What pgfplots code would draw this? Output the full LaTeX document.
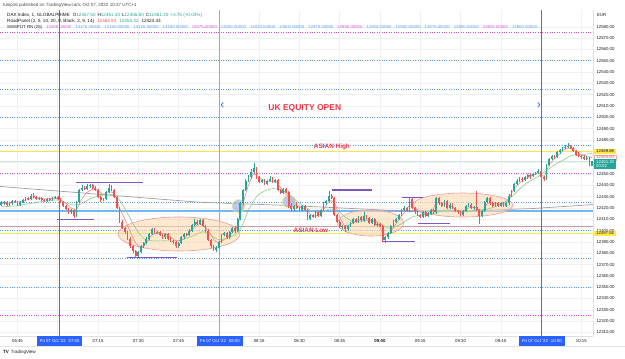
\documentclass[border=0pt]{standalone}
\usepackage{pgfplots}
\pgfplotsset{compat=1.18}
\usepackage{pgfplotstable}
\usepackage{fontspec}
\setmainfont{Liberation Sans}
\definecolor{up}{HTML}{26A69A}
\definecolor{dn}{HTML}{EF5350}
\definecolor{txt}{HTML}{131722}
\definecolor{tvblue}{HTML}{2962FF}
\definecolor{vline}{HTML}{4A6CF0}
\definecolor{vlight}{HTML}{8EA6F6}
\definecolor{dotblue}{HTML}{5B9CF0}
\definecolor{dotmag}{HTML}{D452DE}
\definecolor{yel}{HTML}{FDE74C}
\definecolor{gridc}{HTML}{EEF1F6}
\definecolor{purp}{HTML}{7E57C2}
\definecolor{mared}{HTML}{F28B8B}
\definecolor{magreen}{HTML}{8CCB8A}
\definecolor{mauve}{HTML}{C49AAE}
\definecolor{lblue}{HTML}{74B6F4}
\definecolor{graym}{HTML}{A0A0A0}
\definecolor{ellfill}{HTML}{FBD9B0}
\definecolor{elldraw}{HTML}{F49A9A}
\definecolor{circfill}{HTML}{A9BDEB}
\definecolor{ukred}{HTML}{F23645}
\definecolor{lteal}{HTML}{CFE9E4}
\newcommand{\fs}[1]{\fontsize{#1}{#1}\selectfont}
\pgfplotstableread{
m o h l c
399 12423 12426 12422 12424
400 12424 12426 12423 12425
401 12425 12426 12422 12423
402 12423 12425 12422 12424
403 12424 12427 12423 12426
404 12426 12427 12424 12425
405 12425 12426 12422 12423
406 12423 12426 12422 12425
407 12425 12428 12424 12427
408 12427 12430 12426 12429
409 12429 12430 12427 12428
410 12428 12432 12427 12431
411 12431 12433 12429 12430
412 12430 12431 12427 12428
413 12428 12430 12427 12429
414 12429 12430 12426 12427
415 12427 12428 12425 12426
416 12426 12429 12425 12428
417 12428 12429 12426 12427
418 12427 12430 12426 12429
419 12429 12431 12428 12430
420 12430 12431 12427 12428
421 12428 12429 12424 12425
422 12425 12426 12421 12422
423 12422 12423 12418 12419
424 12419 12420 12415 12416
425 12416 12419 12415 12418
426 12418 12419 12411 12413
427 12413 12426 12412 12425
428 12425 12437 12424 12436
429 12436 12440 12435 12438
430 12438 12439 12436 12437
431 12437 12441 12436 12439
432 12439 12441 12438 12440
433 12440 12441 12437 12438
434 12438 12439 12435 12436
435 12436 12437 12429 12430
436 12430 12431 12425 12427
437 12427 12429 12426 12428
438 12428 12435 12427 12434
439 12434 12441 12433 12438
440 12438 12440 12435 12436
441 12436 12437 12429 12430
442 12430 12431 12419 12420
443 12420 12421 12407 12408
444 12408 12409 12401 12402
445 12402 12403 12397 12399
446 12399 12400 12392 12393
447 12393 12394 12385 12386
448 12386 12387 12380 12382
449 12382 12383 12376 12378
450 12378 12382 12377 12381
451 12381 12387 12380 12386
452 12386 12390 12385 12389
453 12389 12394 12388 12393
454 12393 12398 12392 12397
455 12397 12402 12396 12401
456 12401 12402 12397 12398
457 12398 12400 12397 12399
458 12399 12400 12395 12396
459 12396 12397 12393 12394
460 12394 12398 12393 12397
461 12397 12398 12392 12393
462 12393 12394 12390 12391
463 12391 12392 12388 12390
464 12390 12391 12385 12386
465 12386 12390 12385 12389
466 12389 12395 12388 12394
467 12394 12398 12393 12397
468 12397 12398 12395 12396
469 12396 12401 12395 12400
470 12400 12406 12399 12405
471 12405 12410 12404 12408
472 12408 12409 12405 12406
473 12406 12410 12405 12409
474 12409 12410 12403 12404
475 12404 12405 12399 12400
476 12400 12401 12391 12392
477 12392 12393 12385 12386
478 12386 12387 12382 12383
479 12383 12386 12381 12385
480 12385 12391 12384 12390
481 12390 12397 12389 12396
482 12396 12399 12395 12398
483 12398 12399 12393 12394
484 12394 12400 12393 12399
485 12399 12403 12398 12402
486 12402 12404 12398 12400
487 12400 12411 12399 12410
488 12410 12425 12409 12424
489 12424 12437 12423 12436
490 12436 12446 12435 12444
491 12444 12449 12443 12447
492 12447 12454 12446 12452
493 12452 12460 12451 12455
494 12455 12456 12446 12447
495 12447 12448 12442 12443
496 12443 12446 12442 12445
497 12445 12446 12440 12441
498 12441 12445 12440 12444
499 12444 12448 12443 12446
500 12446 12447 12442 12443
501 12443 12446 12442 12445
502 12445 12446 12435 12436
503 12436 12437 12432 12433
504 12433 12438 12432 12437
505 12437 12438 12433 12434
506 12434 12435 12420 12422
507 12422 12424 12417 12419
508 12419 12423 12417 12422
509 12422 12425 12419 12420
510 12420 12421 12417 12418
511 12418 12423 12417 12422
512 12422 12423 12417 12418
513 12418 12419 12409 12410
514 12410 12415 12409 12414
515 12414 12415 12411 12412
516 12412 12417 12411 12416
517 12416 12417 12412 12413
518 12413 12419 12412 12418
519 12418 12425 12417 12424
520 12424 12427 12423 12426
521 12426 12435 12425 12431
522 12431 12432 12428 12429
523 12429 12430 12413 12414
524 12414 12415 12407 12408
525 12408 12409 12402 12403
526 12403 12405 12401 12404
527 12404 12405 12399 12401
528 12401 12405 12400 12404
529 12404 12408 12403 12407
530 12407 12411 12406 12410
531 12410 12411 12407 12408
532 12408 12413 12407 12412
533 12412 12413 12408 12409
534 12409 12416 12408 12413
535 12413 12414 12410 12411
536 12411 12412 12406 12407
537 12407 12411 12406 12410
538 12410 12411 12404 12405
539 12405 12407 12403 12406
540 12406 12407 12403 12404
541 12404 12405 12390 12392
542 12392 12395 12389 12394
543 12394 12399 12393 12398
544 12398 12405 12397 12404
545 12404 12409 12403 12408
546 12408 12411 12407 12410
547 12410 12415 12409 12414
548 12414 12419 12413 12418
549 12418 12422 12417 12420
550 12420 12421 12416 12417
551 12417 12429 12416 12428
552 12428 12429 12419 12420
553 12420 12421 12415 12416
554 12416 12417 12413 12414
555 12414 12415 12411 12412
556 12412 12417 12411 12416
557 12416 12417 12412 12413
558 12413 12416 12412 12415
559 12415 12419 12414 12418
560 12418 12419 12415 12416
561 12416 12430 12415 12429
562 12429 12430 12423 12424
563 12424 12425 12421 12422
564 12422 12427 12421 12426
565 12426 12427 12419 12420
566 12420 12424 12419 12423
567 12423 12424 12419 12420
568 12420 12421 12416 12417
569 12417 12418 12415 12416
570 12416 12417 12413 12414
571 12414 12418 12413 12417
572 12417 12423 12416 12422
573 12422 12424 12421 12423
574 12423 12424 12419 12420
575 12420 12422 12418 12421
576 12421 12435 12417 12418
577 12418 12419 12406 12413
578 12413 12418 12412 12417
579 12417 12426 12416 12425
580 12425 12430 12424 12429
581 12429 12430 12423 12424
582 12424 12425 12421 12422
583 12422 12425 12421 12424
584 12424 12425 12421 12422
585 12422 12425 12421 12424
586 12424 12425 12421 12422
587 12422 12425 12421 12424
588 12424 12432 12423 12431
589 12431 12436 12430 12435
590 12435 12442 12434 12441
591 12441 12446 12440 12444
592 12444 12447 12443 12446
593 12446 12447 12443 12445
594 12445 12448 12444 12447
595 12447 12450 12446 12449
596 12449 12450 12446 12448
597 12448 12451 12447 12450
598 12450 12452 12449 12451
599 12451 12454 12450 12453
600 12453 12454 12446 12447
601 12447 12448 12444 12446
602 12446 12459 12445 12458
603 12458 12464 12457 12463
604 12463 12467 12462 12466
605 12466 12467 12463 12465
606 12465 12470 12464 12469
607 12469 12472 12468 12471
608 12471 12474 12470 12473
609 12473 12476 12472 12474
610 12474 12477 12473 12475
611 12475 12476 12472 12473
612 12473 12474 12469 12470
613 12470 12471 12466 12467
614 12467 12469 12465 12466
615 12466 12467 12463 12465
616 12465 12467 12462 12463
617 12463 12466 12462 12464
618 12464 12465 12457 12457.5
619 12457.5 12461.3 12456.8 12461.3
}\candles
\begin{document}
\begin{tikzpicture}
\path[use as bounding box] (0pt,0pt) rectangle (625pt,359pt);
\begin{axis}[
  at={(0pt,23pt)}, anchor=south west, scale only axis,
  width=593pt, height=326pt,
  xmin=398.48, xmax=619.34, ymin=12306.89, ymax=12594.88,
  axis x line*=bottom, axis y line*=right,
  axis line style={draw=black!12, -},
  major tick length=0pt,
  xtick={405,420,435,450,465,480,495,510,525,540,555,570,585,600,615},
  xticklabels={06:45,,07:15,07:30,07:45,,08:15,08:30,08:45,\textbf{09:00},09:15,09:30,09:45,,10:15},
  x tick label style={font=\fs{4.3}, text=txt},
  ytick={12310,12320,12330,12340,12350,12360,12370,12380,12390,12400,12410,12420,12430,12440,12450,12460,12470,12480,12490,12500,12510,12520,12530,12540,12550,12560,12570,12580},
  yticklabels={12310.00,12320.00,12330.00,12340.00,12350.00,12360.00,12370.00,12380.00,12390.00,12400.00,12410.00,12420.00,12430.00,12440.00,12450.00,12460.00,12470.00,12480.00,12490.00,12500.00,12510.00,12520.00,12530.00,12540.00,12550.00,12560.00,12570.00,12580.00},
  y tick label style={font=\fs{4.3}, text=txt},
  grid=major, major grid style={draw=gridc, line width=0.6pt},
  clip mode=individual,
  colormap={ud}{color=(dn) color=(up)},
  point meta min=-0.01, point meta max=0.01,
]
% horizontal reference lines
\addplot[dotmag, line width=1pt, dash pattern=on 0.9pt off 1.5pt] coordinates {(398.48,12575) (619.34,12575)};
\addplot[dotmag, line width=1pt, dash pattern=on 0.9pt off 1.5pt] coordinates {(398.48,12450) (619.34,12450)};
\addplot[dotmag, line width=1pt, dash pattern=on 0.9pt off 1.5pt] coordinates {(398.48,12325) (619.34,12325)};
\foreach \yy in {12550,12525,12500,12475,12425,12400,12375,12350} {
  \edef\tmp{\noexpand\addplot[dotblue, line width=0.9pt, dash pattern=on 0.9pt off 1.5pt] coordinates {(398.48,\yy) (619.34,\yy)};}\tmp
}
\addplot[lteal, line width=0.8pt] coordinates {(398.48,12461.5) (619.34,12461.5)};
\addplot[yel, line width=1.3pt] coordinates {(398.48,12469.88) (619.34,12469.88)};
\addplot[yel, line width=1.3pt] coordinates {(398.48,12397.52) (619.34,12397.52)};
\addplot[mauve, line width=0.8pt] coordinates {(398.48,12404.1) (619.34,12404.1)};
\addplot[lblue, line width=1.4pt] coordinates {(398.48,12417.3) (619.34,12417.3)};
\addplot[graym, line width=0.7pt] coordinates {(398.48,12439) (473,12425) (508,12422) (546,12417.6) (575,12417.6) (597,12419.5) (619.34,12423)};
% vertical session lines
\addplot[vline, line width=0.9pt] coordinates {(420.7,12306.89) (420.7,12594.88)};
\addplot[vlight, line width=1pt] coordinates {(480.4,12306.89) (480.4,12594.88)};
\addplot[vline, line width=0.9pt] coordinates {(600.3,12306.89) (600.3,12594.88)};
% zones
\fill[ellfill, opacity=0.6] (axis cs:465.15,12397.0) ellipse [x radius=61pt, y radius=17pt];
\draw[elldraw, line width=0.6pt] (axis cs:465.15,12397.0) ellipse [x radius=61pt, y radius=17pt];
\fill[ellfill, opacity=0.6] (axis cs:536.5,12406.7) ellipse [x radius=33pt, y radius=13pt];
\draw[elldraw, line width=0.6pt] (axis cs:536.5,12406.7) ellipse [x radius=33pt, y radius=13pt];
\fill[ellfill, opacity=0.6] (axis cs:570.9,12422.6) ellipse [x radius=50pt, y radius=12pt];
\draw[elldraw, line width=0.6pt] (axis cs:570.9,12422.6) ellipse [x radius=50pt, y radius=12pt];
\filldraw[fill=circfill, draw=yel!70, fill opacity=0.8, line width=0.6pt] (axis cs:487.3,12421.7) circle [radius=6.5pt];
\filldraw[fill=circfill, draw=yel!70, fill opacity=0.8, line width=0.6pt] (axis cs:506.1,12425.7) circle [radius=6.5pt];
% swing segments
\addplot[purp, line width=1.1pt] coordinates {(426.8,12442.3) (451.7,12442.3)};
\addplot[purp, line width=1.1pt] coordinates {(419.7,12410.2) (433.5,12410.2)};
\addplot[purp, line width=1.1pt] coordinates {(445.8,12376.1) (464.4,12376.1)};
\addplot[purp, line width=1.1pt] coordinates {(522.1,12435.9) (537.0,12435.9)};
\addplot[purp, line width=1.1pt] coordinates {(541.1,12390.2) (553.0,12390.2)};
\addplot[purp, line width=1.1pt] coordinates {(548.2,12429.2) (556.0,12429.2)};
\addplot[purp, line width=1.1pt] coordinates {(554.2,12406.5) (566.1,12406.5)};
% moving averages
\addplot[magreen, line width=0.6pt, smooth, tension=0.4] coordinates {(399,12421) (405,12422) (410,12424) (415,12426) (420,12427) (425,12423) (428,12423) (432,12428) (436,12431) (440,12432) (443,12427) (446,12415) (449,12402) (452,12393) (455,12391) (460,12391) (465,12391) (470,12395) (474,12399) (477,12396) (480,12392) (484,12394) (487,12398) (489,12406) (491,12418) (494,12430) (497,12435) (500,12437) (503,12436) (506,12432) (509,12426) (512,12421) (515,12417) (518,12416) (521,12419) (524,12418) (527,12412) (530,12408) (534,12409) (538,12409) (541,12405) (544,12402) (548,12406) (552,12412) (556,12414) (560,12415) (564,12418) (568,12418) (572,12417) (576,12418) (580,12419) (584,12422) (587,12426) (590,12432) (593,12439) (596,12444) (599,12448) (602,12453) (605,12458) (608,12462) (611,12466) (614,12467) (619,12468)};
\addplot[mared, line width=0.6pt, smooth, tension=0.4] coordinates {(399,12424) (403,12424.5) (407,12426) (411,12429) (415,12428) (419,12428.5) (422,12426) (425,12420) (427,12419) (429,12428) (431,12434) (434,12437) (437,12432) (439,12434) (441,12433) (443,12420) (445,12410) (447,12399) (449,12389) (451,12385) (453,12389) (455,12396) (458,12398) (461,12396) (464,12391) (467,12393) (470,12401) (473,12406) (476,12400) (479,12390) (482,12392) (485,12398) (487,12404) (489,12424) (491,12440) (493,12450) (495,12447) (498,12443) (501,12444) (503,12438) (506,12430) (509,12422) (512,12419) (515,12413) (518,12415) (521,12426) (523,12425) (525,12412) (527,12404) (530,12407) (533,12410) (536,12409) (539,12407) (541,12398) (543,12396) (546,12406) (549,12416) (551,12422) (553,12420) (556,12415) (559,12416) (561,12424) (564,12424) (567,12421) (570,12416) (573,12420) (576,12420) (578,12416) (580,12424) (583,12424) (586,12423) (588,12428) (590,12437) (593,12444) (596,12448) (599,12451) (601,12448) (603,12458) (606,12466) (609,12472) (612,12472) (615,12467) (619,12464.6)};
% candles: wicks then bodies
\addplot[quiver={u=0, v=\thisrow{h}-\thisrow{l}, colored=mapped color, every arrow/.append style={line width=0.5pt}}, point meta={\thisrow{c}-\thisrow{o}}] table[x=m, y=l] {\candles};
\addplot[quiver={u=0, v=\thisrow{c}-\thisrow{o}, colored=mapped color, every arrow/.append style={line width=1.8pt}}, point meta={\thisrow{c}-\thisrow{o}}] table[x=m, y=o] {\candles};
% annotations
\node[text=ukred, font=\fs{8.5}\bfseries] at (axis cs:512.0,12508.3) {UK EQUITY OPEN};
\node[text=tvblue, font=\fs{12}] at (axis cs:481.3,12510.5) {‹};
\node[text=tvblue, font=\fs{12}] at (axis cs:599.2,12510.5) {›};
\node[text=ukred, font=\fs{6.4}\bfseries] at (axis cs:522.1,12473.9) {ASIAN High};
\node[text=ukred, font=\fs{6.4}\bfseries] at (axis cs:514.3,12400.5) {ASIAN Low};
% time badges
\node[fill=tvblue, text=white, font=\fs{4.3}, anchor=north, inner xsep=3pt, inner ysep=0pt, minimum height=9.5pt] at (axis cs:420.7,12306.89) {Fri 07 Oct '22\hspace{3pt}07:00};
\node[fill=tvblue, text=white, font=\fs{4.3}, anchor=north, inner xsep=3pt, inner ysep=0pt, minimum height=9.5pt] at (axis cs:480.4,12306.89) {Fri 07 Oct '22\hspace{3pt}08:00};
\node[fill=tvblue, text=white, font=\fs{4.3}, anchor=north, inner xsep=3pt, inner ysep=0pt, minimum height=9.5pt] at (axis cs:600.3,12306.89) {Fri 07 Oct '22\hspace{3pt}10:00};
% price badges
\node[fill=yel, text=txt, font=\fs{4.3}, anchor=west, inner xsep=2pt, inner ysep=1pt, xshift=1pt] at (axis cs:619.34,12469.88) {12469.88};
\node[fill=white, draw=dn!50, text=dn, font=\fs{4.3}, anchor=west, inner xsep=2pt, inner ysep=1pt, xshift=1pt] at (axis cs:619.34,12464.6) {12464.60};
\node[fill=up, text=white, font=\fs{4.3}, anchor=north west, align=left, inner xsep=2pt, inner ysep=1pt, xshift=1pt] at (axis cs:619.34,12463.2) {12461.30\\00:02};
\node[fill=yel, text=txt, font=\fs{4.3}, anchor=west, inner xsep=2pt, inner ysep=1pt, xshift=1pt] at (axis cs:619.34,12397.52) {12397.52};
\end{axis}
% header and legends
\node[anchor=west, inner sep=0pt, text=txt!80, font=\fs{4.5}] at (3pt,354pt) {tunip16 published on TradingView.com, Oct 07, 2022 10:37 UTC+1};
\node[anchor=west, inner sep=0pt, text=txt, font=\fs{4.6}] at (7pt,344pt) {DAX Index, 1, GLOBALPRIME\hspace{3pt}O\textcolor{up}{12457.50}\hspace{2pt}H\textcolor{up}{12461.30}\hspace{2pt}L\textcolor{up}{12456.80}\hspace{2pt}C\textcolor{up}{12461.30}\hspace{2pt}\textcolor{up}{+3.75 (+0.03\%)}};
\node[anchor=west, inner sep=0pt, text=txt, font=\fs{4.6}] at (7pt,337.7pt) {RoadPanel (2, 0, 10, 20, 0, Black, 2, 9, 14)\hspace{3pt}\textcolor{dn}{12463.93}\hspace{3pt}\textcolor{up}{12455.31}\hspace{3pt}12424.33};
\node[anchor=west, inner sep=0pt, text=txt, font=\fs{4.3}] at (7pt,331.3pt) {SWSPOT RN (25)\hspace{4.2pt}\textcolor{dotmag}{13200.00000}\hspace{4pt}\textcolor{dotblue}{13175.00000}\hspace{4pt}\textcolor{dotblue}{13150.00000}\hspace{4pt}\textcolor{dotblue}{13125.00000}\hspace{4pt}\textcolor{dotblue}{13100.00000}\hspace{4pt}\textcolor{dotmag}{13075.00000}\hspace{4pt}\textcolor{dotblue}{13050.00000}\hspace{4pt}\textcolor{dotblue}{13025.00000}\hspace{4pt}\textcolor{dotblue}{13000.00000}\hspace{4pt}\textcolor{dotblue}{12975.00000}\hspace{4pt}\textcolor{dotmag}{12950.00000}\hspace{4pt}\textcolor{dotblue}{12925.00000}\hspace{4pt}\textcolor{dotblue}{12900.00000}\hspace{4pt}\textcolor{dotblue}{12875.00000}\hspace{4pt}\textcolor{dotblue}{12850.00000}\hspace{4pt}\textcolor{dotmag}{12825.00000}\hspace{4pt}\textcolor{dotblue}{12800.00000...}};
\node[anchor=west, inner sep=0pt, text=txt, font=\fs{4.3}] at (597pt,344pt) {EUR};
\draw[black!10, line width=0.5pt] (0pt,12.5pt) -- (625pt,12.5pt);
\node[anchor=west, inner sep=0pt, text=txt, font=\fs{4.5}] at (3pt,6.5pt) {\textbf{TV}\hspace{2pt}TradingView};
\end{tikzpicture}
\end{document}
